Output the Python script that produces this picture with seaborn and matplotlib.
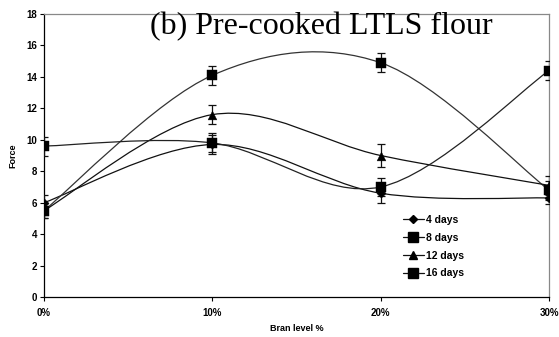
import numpy as np
import pandas as pd
import matplotlib
matplotlib.use("Agg")
import matplotlib.pyplot as plt
from matplotlib.path import Path
from matplotlib.patches import PathPatch
from matplotlib.lines import Line2D
import seaborn as sns

bran = [0, 10, 20, 30]
tick_labels = ["0%", "10%", "20%", "30%"]
series_names = ["4 days", "8 days", "12 days", "16 days"]
force_4 = [6.0, 9.7, 6.6, 6.3]
force_8 = [5.5, 14.1, 14.9, 6.8]
force_12 = [5.5, 11.6, 9.0, 7.1]
force_16 = [9.6, 9.8, 7.0, 14.4]
err_4 = [0.5, 0.6, 0.6, 0.4]
err_8 = [0.5, 0.6, 0.6, 0.6]
err_12 = [0.5, 0.6, 0.7, 0.6]
err_16 = [0.6, 0.6, 0.6, 0.6]

sns.set_theme(style="white")
plt.rcParams["font.family"] = ["Liberation Sans", "DejaVu Sans"]
plt.rcParams["text.color"] = "black"
plt.rcParams["axes.labelcolor"] = "black"
plt.rcParams["xtick.color"] = "black"
plt.rcParams["ytick.color"] = "black"

fig = plt.figure(figsize=(5.59, 3.37), dpi=100)
ax = fig.add_axes([44/559, 1-297/337, (549-44)/559, (297-14)/337])

markers = {"4 days": "D", "8 days": "s", "12 days": "^", "16 days": "s"}
msizes = {"4 days": 22, "8 days": 55, "12 days": 40, "16 days": 55}
values = {"4 days": force_4, "8 days": force_8, "12 days": force_12, "16 days": force_16}
errs = {"4 days": err_4, "8 days": err_8, "12 days": err_12, "16 days": err_16}

rows = []
for name in series_names:
    for x, y in zip(bran, values[name]):
        rows.append({"bran": x, "force": y, "series": name})
df = pd.DataFrame(rows)


def smooth_path(xs, ys):
    pts = np.column_stack([xs, ys]).astype(float)
    n = len(pts)
    verts = [pts[0]]
    codes = [Path.MOVETO]
    for i in range(n - 1):
        p0 = pts[i - 1] if i > 0 else pts[i]
        p1 = pts[i]
        p2 = pts[i + 1]
        p3 = pts[i + 2] if i + 2 < n else pts[i + 1]
        c1 = p1 + (p2 - p0) / 6.0
        c2 = p2 - (p3 - p1) / 6.0
        verts += [c1, c2, p2]
        codes += [Path.CURVE4] * 3
    return Path(verts, codes)


line_colors = {"4 days": "#111111", "8 days": "#333333", "12 days": "#111111", "16 days": "#222222"}
for name in series_names:
    p = smooth_path(bran, values[name])
    ax.add_patch(PathPatch(p, facecolor="none", edgecolor=line_colors[name], lw=0.9, zorder=2))
    ax.errorbar(bran, values[name], yerr=errs[name], fmt="none", ecolor="#111111",
                elinewidth=0.9, capsize=3, capthick=0.9, zorder=3)

for name in series_names:
    sub = df[df["series"] == name]
    sns.scatterplot(data=sub, x="bran", y="force", marker=markers[name], s=msizes[name],
                    color="black", edgecolor="black", linewidth=0.3, ax=ax, zorder=4, legend=False)

ax.set_xlim(0, 30)
ax.set_ylim(0, 18)
ax.set_xticks(bran)
ax.set_xticklabels(tick_labels)
ax.set_yticks(range(0, 19, 2))
ax.tick_params(axis="both", labelsize=7, length=3, width=0.8, direction="out",
               bottom=True, left=True, pad=2)
for lbl in ax.get_xticklabels() + ax.get_yticklabels():
    lbl.set_fontweight("bold")
ax.tick_params(axis="x", pad=5)
ax.set_xlabel("Bran level %", fontsize=6.5, fontweight="bold", labelpad=4)
ax.set_ylabel("Force", fontsize=6.5, fontweight="bold", labelpad=6)
for s in ["left", "bottom"]:
    ax.spines[s].set_color("black")
    ax.spines[s].set_linewidth(0.9)
for s in ["top", "right"]:
    ax.spines[s].set_color("#888888")
    ax.spines[s].set_linewidth(0.9)

handles = [Line2D([0], [0], color="#111111", lw=0.9, marker=markers[n],
                  markersize=(4 if n == "4 days" else (6 if n == "12 days" else 7)),
                  markerfacecolor="black", markeredgecolor="black") for n in series_names]
leg = ax.legend(handles, series_names, loc="upper left", bbox_to_anchor=(0.711, 0.29),
                frameon=False, fontsize=7.5, handlelength=2.0, handletextpad=0.2,
                labelspacing=0.75, borderpad=0, borderaxespad=0)
for t in leg.get_texts():
    t.set_fontweight("bold")

fig.text(0.574, 0.92, "(b) Pre-cooked LTLS flour", fontsize=23, ha="center", va="center",
         color="black", family=["Liberation Serif", "DejaVu Serif"])

fig.savefig("out.png", dpi=100)
